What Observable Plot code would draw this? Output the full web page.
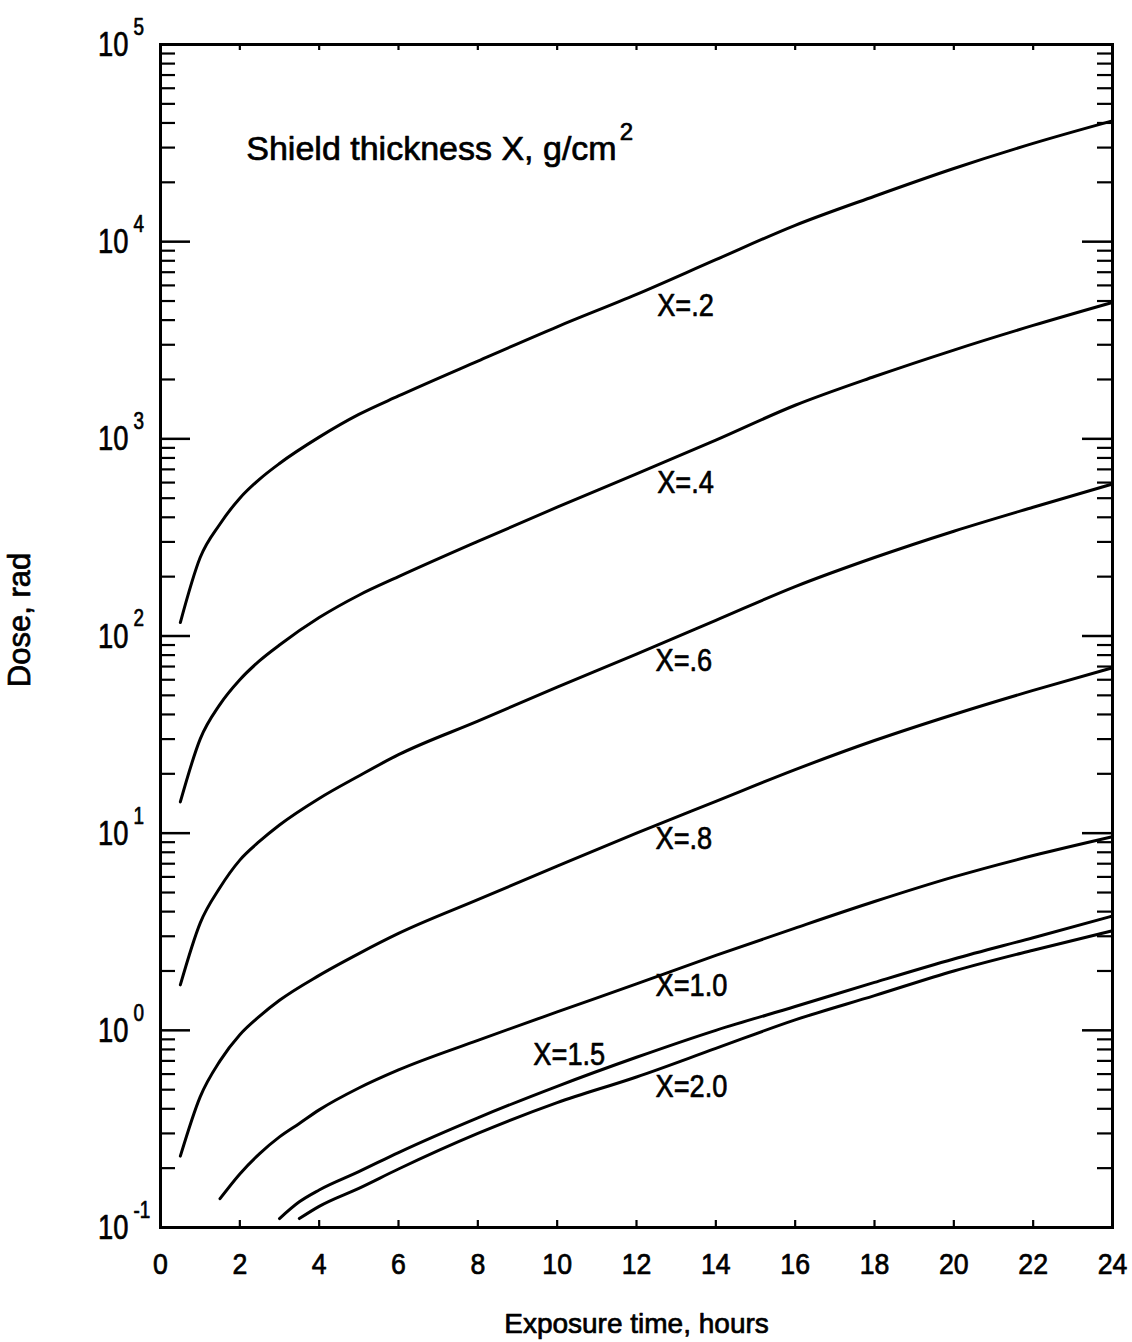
<!DOCTYPE html>
<html><head><meta charset="utf-8">
<script src="https://cdn.jsdelivr.net/npm/d3@7"></script>
<script src="https://cdn.jsdelivr.net/npm/@observablehq/plot@0.6"></script>
<style>
html,body{margin:0;padding:0;background:#fff;}
</style>
</head><body><div id="chart"></div>
<script>
// ---- data ----
const hoursA  = [0.5,1,1.5,2,2.5,3,4,5,6,8,10,12,14,16,18,20,22,24];
const doseX02 = [117,250,370,500,625,750,1020,1330,1650,2480,3700,5400,8100,12100,17000,23500,31500,41000];
const doseX04 = [14.4,30,45,60,75,90,124,161,200,302,450,665,985,1480,2070,2820,3760,4920];
const doseX06 = [1.7,3.5,5.3,7.3,9.1,11,15,19.5,25,37,55,81,120,178,250,340,450,590];
const doseX08 = [0.23,0.46,0.70,0.95,1.18,1.42,1.9,2.45,3.1,4.6,6.8,10,14.5,21,29.5,40,53,69];
const hoursX10 = [1.5,2,2.5,3,3.5,4,5,6,8,10,12,14,16,18,20,22,24];
const doseX10  = [0.14,0.187,0.237,0.288,0.337,0.395,0.51,0.63,0.89,1.24,1.72,2.4,3.3,4.5,6.0,7.7,9.6];
const hoursX15 = [3,3.5,4,5,6,8,10,12,14,16,18,20,22,24];
const doseX15  = [0.111,0.135,0.155,0.192,0.24,0.36,0.52,0.73,1.0,1.32,1.75,2.3,2.95,3.8];
const hoursX20 = [3.5,4,5,6,8,10,12,14,16,18,20,22,24];
const doseX20  = [0.111,0.128,0.158,0.198,0.30,0.43,0.58,0.81,1.13,1.5,2.0,2.55,3.2];

const xTicks = [0,2,4,6,8,10,12,14,16,18,20,22,24];
const yTicks = [0.1,1,10,100,1000,10000,100000];
const yTickExponents = ["-1","0","1","2","3","4","5"];
const seriesNames = ["X=.2","X=.4","X=.6","X=.8","X=1.0","X=1.5","X=2.0"];

const xLabel = "Exposure time, hours";
const yLabel = "Dose, rad";
const noteText = "Shield thickness X, g/cm";
const noteExp = "2";

// ---- build table ----
const seriesHours = [hoursA, hoursA, hoursA, hoursA, hoursX10, hoursX15, hoursX20];
const seriesDose = [doseX02, doseX04, doseX06, doseX08, doseX10, doseX15, doseX20];
const rows = seriesNames.flatMap((name, k) =>
  seriesHours[k].map((t, i) => ({X: name, t, dose: seriesDose[k][i]})));

const minorY = [];
for (let e = -1; e < 5; e++) for (let m = 2; m < 10; m++) minorY.push(m * Math.pow(10, e));

// ---- layout ----
const W = 1132, H = 1342;
const mL = 160, mR = 20, mT = 44, mB = 115;
const fw = W - mL - mR, fh = H - mT - mB;
const font = "'Liberation Sans',Arial,sans-serif";
const ink = {fill: "#000", stroke: "#000", strokeWidth: 0.7};

// font sizes (also used to pick a horizontal condensing factor below)
const FS_YBASE = 36, FS_YEXP = 23, FS_CURVE = 32, FS_XTICK = 29;
const condense = {[FS_YBASE]: 0.76, [FS_YEXP]: 0.82, [FS_CURVE]: 0.85, [FS_XTICK]: 0.92};

const labelSpots = [
  {label: "X=.2", t: 12.52, dose: 4740},
  {label: "X=.4", t: 12.52, dose: 601},
  {label: "X=.6", t: 12.48, dose: 75},
  {label: "X=.8", t: 12.48, dose: 9.4},
  {label: "X=1.0", t: 12.48, dose: 1.69},
  {label: "X=1.5", t: 9.40, dose: 0.755},
  {label: "X=2.0", t: 12.48, dose: 0.52}
];

const chart = Plot.plot({
  width: W, height: H,
  marginLeft: mL, marginRight: mR, marginTop: mT, marginBottom: mB,
  style: {fontFamily: font, background: "#fff", color: "#000"},
  x: {domain: [0, 24], axis: null},
  y: {type: "log", domain: [0.1, 100000], axis: null},
  marks: [
    // curves
    Plot.line(rows, {x: "t", y: "dose", z: "X", stroke: "#000", strokeWidth: 3, curve: "monotone-x"}),
    // inward ticks
    Plot.tickY(yTicks, {y: d => d, insetRight: fw - 30, stroke: "#000", strokeWidth: 2.5}),
    Plot.tickY(yTicks, {y: d => d, insetLeft: fw - 30, stroke: "#000", strokeWidth: 2.5}),
    Plot.tickY(minorY, {y: d => d, insetRight: fw - 15, stroke: "#000", strokeWidth: 2.2}),
    Plot.tickY(minorY, {y: d => d, insetLeft: fw - 15, stroke: "#000", strokeWidth: 2.2}),
    Plot.tickX(xTicks.slice(1, -1), {x: d => d, insetTop: fh - 7, stroke: "#000", strokeWidth: 2.2}),
    Plot.tickX(xTicks.slice(1, -1), {x: d => d, insetBottom: fh - 6, stroke: "#000", strokeWidth: 2.2}),
    Plot.frame({stroke: "#000", strokeWidth: 3}),
    // x tick labels
    Plot.text(xTicks, {x: d => d, frameAnchor: "bottom", lineAnchor: "middle", textAnchor: "middle",
      dy: 37, text: d => String(d), fontSize: FS_XTICK, ...ink}),
    // y tick labels: "10" + exponent
    Plot.text(yTicks, {y: d => d, frameAnchor: "left", lineAnchor: "middle", dx: -32, text: () => "10",
      textAnchor: "end", fontSize: FS_YBASE, ...ink}),
    Plot.text(yTicks, {y: d => d, frameAnchor: "left", lineAnchor: "middle", dx: -27, dy: -17,
      text: (d, i) => yTickExponents[i], textAnchor: "start", fontSize: FS_YEXP, ...ink}),
    // axis titles
    Plot.text([xLabel], {frameAnchor: "bottom", lineAnchor: "middle", textAnchor: "middle", dy: 97,
      text: d => d, fontSize: 28, ...ink}),
    Plot.text([yLabel], {y: () => 100, frameAnchor: "left", lineAnchor: "middle", textAnchor: "middle",
      dx: -140, dy: -16, text: d => d, rotate: -90, fontSize: 31, ...ink}),
    // note
    Plot.text([noteText], {x: 11.5, y: 29350, text: d => d, textAnchor: "end", fontSize: 34, ...ink}),
    Plot.text([noteExp], {x: 11.5, y: 29350, dx: 3, dy: -17, text: d => d, textAnchor: "start", fontSize: 24, ...ink}),
    // curve labels
    Plot.text(labelSpots, {x: "t", y: "dose", text: "label", textAnchor: "start", fontSize: FS_CURVE, ...ink})
  ]
});
document.getElementById("chart").appendChild(chart);

// condense number-like labels horizontally (the original uses a condensed face)
chart.querySelectorAll("text").forEach(t => {
  const g = t.closest("g[font-size]");
  const fs = g ? +g.getAttribute("font-size") : NaN;
  const f = condense[fs];
  if (!f) return;
  const tr = t.getAttribute("transform");
  if (tr && /translate/.test(tr)) {
    t.setAttribute("transform", `${tr} scale(${f},1)`);
  } else {
    const len = t.getComputedTextLength();
    t.setAttribute("textLength", (len * f).toFixed(1));
    t.setAttribute("lengthAdjust", "spacingAndGlyphs");
  }
});
</script>
</body></html>
